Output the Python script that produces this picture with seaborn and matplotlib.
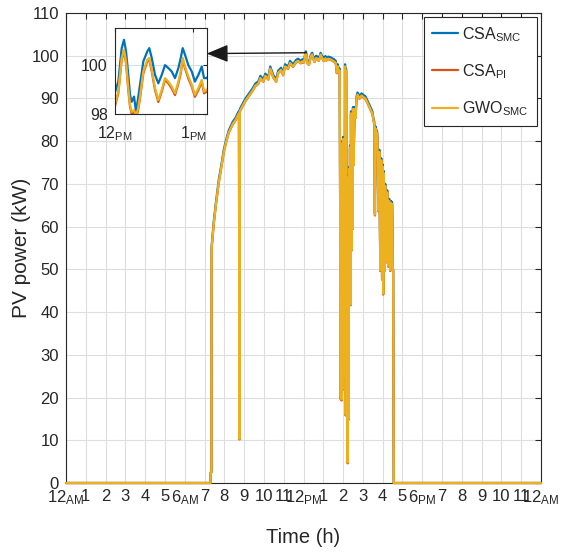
import matplotlib
matplotlib.use('Agg')
import matplotlib.pyplot as plt
import seaborn as sns
import pandas as pd
from matplotlib import font_manager
from matplotlib.lines import Line2D

# ---------------- data ----------------
hours = [0.00, 7.30, 7.31, 7.35, 7.36, 7.46, 7.57, 7.72, 7.87, 7.97, 8.10, 8.22, 8.42, 8.57,
         8.67, 8.74, 8.76, 8.78, 8.87, 9.07, 9.22, 9.42, 9.57, 9.72, 9.82, 9.97, 10.07, 10.22,
         10.32, 10.47, 10.62, 10.72, 10.87, 10.97, 11.07, 11.22, 11.32, 11.47, 11.62, 11.72,
         11.87, 11.95,
         12.000, 12.046, 12.089, 12.118, 12.144, 12.173, 12.195, 12.216, 12.246, 12.271, 12.295,
         12.322, 12.364, 12.415, 12.440, 12.471, 12.513, 12.555, 12.598, 12.640, 12.682, 12.725,
         12.767, 12.810, 12.840, 12.865, 12.894, 12.936, 12.980, 13.020, 13.064, 13.107, 13.136,
         13.170,
         13.25, 13.38, 13.53, 13.63, 13.68, 13.73, 13.78, 13.83,
         13.85, 13.88, 13.90, 13.93, 13.95, 13.98, 14.00, 14.03, 14.05, 14.08, 14.10, 14.13,
         14.15, 14.18, 14.20, 14.23, 14.25, 14.28, 14.30, 14.33, 14.35, 14.38, 14.40, 14.43,
         14.45, 14.48, 14.50, 14.53,
         14.58, 14.63, 14.68, 14.73, 14.83, 14.93, 15.03, 15.13, 15.23, 15.33, 15.43, 15.48,
         15.53, 15.58, 15.61, 15.63, 15.73, 15.78, 15.83, 15.88, 15.93, 15.97, 16.01, 16.03,
         16.06, 16.10, 16.13, 16.18, 16.23, 16.28, 16.33, 16.38, 16.43, 16.48, 16.51, 16.53,
         16.56, 24.00]

csa_smc = [0, 0, 2.5, 2.5, 55.5, 61.0, 65.5, 71.0, 75.0, 78.0, 80.5, 82.5, 84.5, 85.5,
           86.5, 87.0, 10.3, 87.5, 88.3, 90.0, 91.0, 92.3, 93.5, 94.0, 95.3, 94.5, 95.8, 95.0,
           97.5, 95.5, 94.5, 96.5, 97.2, 96.0, 98.0, 97.5, 98.8, 98.0, 99.0, 99.3,
           98.8, 99.2,
           98.86, 99.33, 100.69, 101.03, 100.56, 99.60, 98.79, 98.51, 98.72, 98.10, 98.60,
           99.20, 100.15, 100.56, 100.69, 100.29, 99.60, 99.26, 99.60, 100.00, 99.88, 99.74,
           99.47, 99.88, 100.29, 100.69, 100.42, 100.00, 99.74, 99.33, 99.60, 99.94, 99.47,
           99.47,
           99.8, 99.6, 99.2, 98.8, 96.5, 98.0, 96.8, 97.0,
           64, 20, 65, 19.5, 80, 22, 81, 39, 78, 25, 98, 16,
           97, 24, 70, 5, 72, 15, 74, 44, 79, 42, 87, 55,
           86.5, 60, 88, 75,
           88, 86, 90.5, 91.4, 90.5, 91.2, 90.8, 90.5, 89.5, 88.5, 87.5, 87.0,
           85.5, 84.5, 63.0, 83.5, 82.0, 64.0, 78.0, 50.0, 76.0, 48.0, 74.5, 44.5,
           73.0, 50.0, 70.0, 52.0, 68.5, 51.0, 66.5, 50.0, 66.0, 65.5, 50.5, 50.0,
           0, 0]

csa_pi = [0, 0, 2.5, 2.5, 54.9, 60.3, 64.9, 70.3, 74.4, 77.3, 79.9, 81.9, 83.9, 84.9,
          85.9, 86.4, 10.2, 86.9, 87.7, 89.4, 90.4, 91.7, 92.9, 93.4, 94.7, 93.9, 95.2, 94.4,
          96.9, 94.9, 93.9, 95.9, 96.6, 95.4, 97.4, 96.9, 98.2, 97.4, 98.4, 98.7,
          98.2, 98.6,
          98.30, 98.85, 100.22, 100.55, 100.08, 98.98, 98.30, 98.02, 98.10, 97.88, 98.12,
          98.65, 99.66, 100.15, 100.22, 99.74, 98.98, 98.50, 98.92, 99.40, 99.26, 99.05,
          98.78, 99.26, 99.66, 100.22, 99.87, 99.46, 99.12, 98.71, 98.98, 99.33, 98.85,
          98.92,
          99.2, 99.0, 98.6, 98.2, 95.9, 97.4, 96.2, 96.4,
          63.4, 19.6, 64.4, 19.3, 79.4, 21.8, 80.4, 38.8, 77.4, 24.7, 97.4, 15.8,
          96.4, 23.8, 69.4, 4.6, 71.4, 14.8, 73.4, 43.6, 78.4, 41.6, 86.4, 54.4,
          85.9, 59.4, 87.4, 74.4,
          87.4, 85.4, 89.9, 90.8, 89.9, 90.6, 90.2, 89.9, 88.9, 87.9, 86.9, 86.4,
          84.9, 83.9, 62.6, 82.9, 81.4, 63.6, 77.4, 49.6, 75.4, 47.6, 73.9, 44.1,
          72.4, 49.6, 69.4, 51.6, 67.9, 50.6, 65.9, 49.6, 65.4, 64.9, 50.1, 49.6,
          0, 0]

gwo_smc = [0, 0, 2.5, 2.5, 55.0, 60.4, 65.0, 70.4, 74.5, 77.4, 80.0, 82.0, 84.0, 85.0,
           86.0, 86.5, 10.3, 87.0, 87.8, 89.5, 90.5, 91.8, 93.0, 93.5, 94.8, 94.0, 95.3, 94.5,
           97.0, 95.0, 94.0, 96.0, 96.7, 95.5, 97.5, 97.0, 98.3, 97.5, 98.5, 98.8,
           98.3, 98.7,
           98.38, 98.92, 100.29, 100.62, 100.15, 99.06, 98.38, 98.10, 98.17, 97.95, 98.20,
           98.72, 99.74, 100.22, 100.29, 99.81, 99.06, 98.58, 98.99, 99.47, 99.33, 99.13,
           98.86, 99.33, 99.74, 100.29, 99.94, 99.54, 99.20, 98.79, 99.06, 99.40, 98.92,
           98.99,
           99.3, 99.1, 98.7, 98.3, 96.0, 97.5, 96.3, 96.5,
           63.5, 20, 64.5, 19.5, 79.5, 22, 80.5, 39, 77.5, 25, 97.5, 16,
           96.5, 24, 69.5, 4.8, 71.5, 15, 73.5, 43.8, 78.5, 41.8, 86.5, 54.5,
           86.0, 59.5, 87.5, 74.5,
           87.5, 85.5, 90.0, 90.9, 90.0, 90.7, 90.3, 90.0, 89.0, 88.0, 87.0, 86.5,
           85.0, 84.0, 62.8, 83.0, 81.5, 63.8, 77.5, 49.8, 75.5, 47.8, 74.0, 44.3,
           72.5, 49.8, 69.5, 51.8, 68.0, 50.8, 66.0, 49.8, 65.5, 65.0, 50.3, 49.8,
           0, 0]

series_names = ['CSA$_{\\mathrm{SMC}}$', 'CSA$_{\\mathrm{PI}}$', 'GWO$_{\\mathrm{SMC}}$']
series_colors = ['#0072BD', '#D95319', '#EDB120']

hour_ticks = list(range(25))
hour_labels = ['12$_{\\mathrm{AM}}$', '1', '2', '3', '4', '5', '6$_{\\mathrm{AM}}$', '7', '8', '9',
               '10', '11', '12$_{\\mathrm{PM}}$', '1', '2', '3', '4', '5', '6$_{\\mathrm{PM}}$',
               '7', '8', '9', '10', '11', '12$_{\\mathrm{AM}}$']
power_ticks = list(range(0, 111, 10))
inset_xticks = [12, 13]
inset_xlabels = ['12$_{\\mathrm{PM}}$', '1$_{\\mathrm{PM}}$']
inset_yticks = [98, 100]

# ---------------- style ----------------
sns.set_theme(style='white')
names = {f.name for f in font_manager.fontManager.ttflist}
narrow = 'Liberation Sans Narrow' if 'Liberation Sans Narrow' in names else 'Liberation Sans'
plt.rcParams['font.family'] = [narrow, 'DejaVu Sans']
plt.rcParams['mathtext.fontset'] = 'custom'
plt.rcParams['mathtext.rm'] = narrow
plt.rcParams['mathtext.sf'] = narrow
plt.rcParams['mathtext.it'] = narrow + ':italic'
plt.rcParams['mathtext.bf'] = narrow + ':bold'

dark = '#262626'

n = len(hours)
df = pd.DataFrame({
    'Time': hours * 3,
    'Power': csa_smc + csa_pi + gwo_smc,
    'Series': [series_names[0]] * n + [series_names[1]] * n + [series_names[2]] * n,
})
palette = dict(zip(series_names, series_colors))

fig = plt.figure(figsize=(5.62, 5.53), dpi=100)
fig.patch.set_facecolor('white')
ax = fig.add_axes([66 / 562, 1 - 483 / 553, (541 - 66) / 562, (483 - 13) / 553])

sns.lineplot(data=df, x='Time', y='Power', hue='Series', hue_order=series_names,
             palette=palette, estimator=None, sort=False, linewidth=1.6, legend=False, ax=ax)
for ln in ax.lines:
    ln.set_clip_on(False)
    ln.set_zorder(3)

ax.set_xlim(0, 24)
ax.set_ylim(0, 110)
ax.set_xticks(hour_ticks)
ax.set_xticklabels(hour_labels)
ax.set_yticks(power_ticks)
ax.grid(True, color='#DEDEDE', linewidth=0.8)
ax.set_axisbelow(True)
ax.tick_params(axis='both', direction='in', length=4, width=0.8, top=True, right=True,
               colors=dark, labelsize=12)
ax.tick_params(axis='x', pad=4)
ax.tick_params(axis='y', pad=5)
for s in ax.spines.values():
    s.set_color(dark)
    s.set_linewidth(0.8)
ax.set_xlabel('Time (h)', fontsize=14.5, color=dark, labelpad=15)
ax.set_ylabel('PV power (kW)', fontsize=15, color=dark, labelpad=0,
              family=['Liberation Sans', 'DejaVu Sans'])

handles = [Line2D([0], [0], color=c, lw=1.6) for c in series_colors]
leg = ax.legend(handles, series_names, loc='upper right', frameon=True, fancybox=False,
                edgecolor=dark, framealpha=1, fontsize=11.5, handlelength=1.6,
                handletextpad=0.3, labelspacing=1.15, borderaxespad=0.25, borderpad=0.5)
leg.get_frame().set_linewidth(0.8)
for t in leg.get_texts():
    t.set_color(dark)

# arrow from the peak to the inset
ax.annotate('', xy=(7.11, 100.5), xytext=(12.15, 100.7),
            arrowprops=dict(arrowstyle='-|>,head_length=1.1,head_width=0.45',
                            color='k', lw=1.0, shrinkA=0, shrinkB=0))

# ---------------- inset ----------------
axin = fig.add_axes([114.7 / 562, 1 - 114.3 / 553, 92 / 562, 86.6 / 553])
axin.set_facecolor('white')
sns.lineplot(data=df, x='Time', y='Power', hue='Series', hue_order=series_names,
             palette=palette, estimator=None, sort=False, linewidth=1.6, legend=False, ax=axin)
axin.set_xlim(12, 13.17)
axin.set_ylim(98, 101.52)
axin.set_xticks(inset_xticks)
axin.set_xticklabels(inset_xlabels)
axin.set_yticks(inset_yticks)
axin.set_xlabel('')
axin.set_ylabel('')
axin.grid(True, color='#DEDEDE', linewidth=0.8)
axin.set_axisbelow(True)
axin.tick_params(axis='both', direction='in', length=3, width=0.8, top=True, right=True,
                 colors=dark, labelsize=11.5)
axin.tick_params(axis='x', pad=7)
axin.tick_params(axis='y', pad=5)
for s in axin.spines.values():
    s.set_color(dark)
    s.set_linewidth(0.8)

fig.savefig('out.png', dpi=100, facecolor='white')
